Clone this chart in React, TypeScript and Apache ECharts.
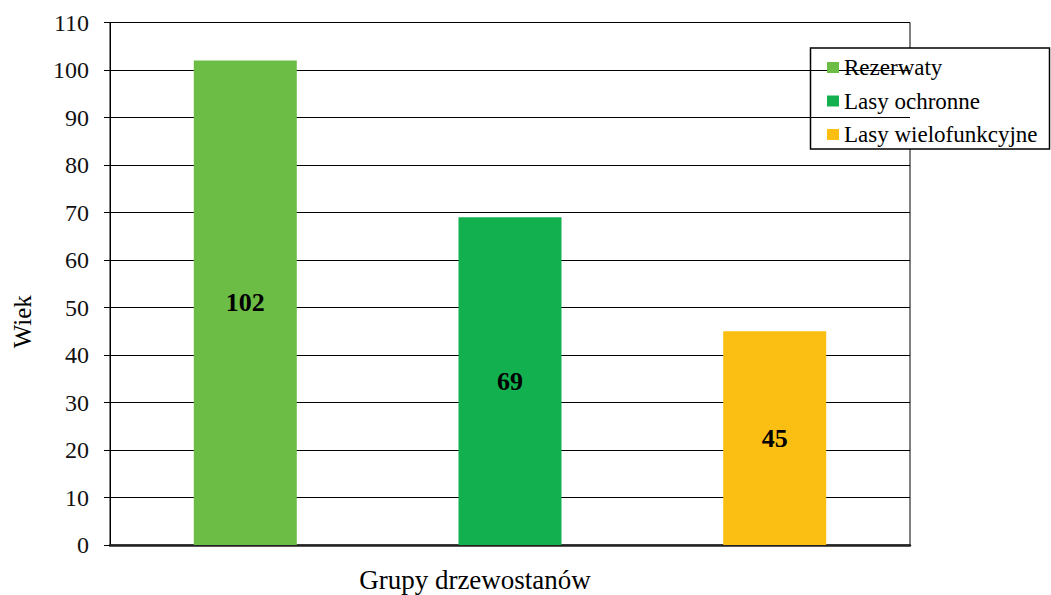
import React, { useEffect, useRef } from "react";
import * as echarts from "echarts";

// Mean stand age per forest group
const groups = ["Rezerwaty", "Lasy ochronne", "Lasy wielofunkcyjne"];
const ages = [102, 69, 45];
const groupColors = ["#6cbd45", "#13b050", "#fbbf13"];
const xTitle = "Grupy drzewostanów";
const yTitle = "Wiek";
const yMin = 0;
const yMax = 110;
const yStep = 10;

const SERIF = "'Liberation Serif', 'Times New Roman', serif";

export default function App() {
  const ref = useRef<HTMLDivElement>(null);

  useEffect(() => {
    if (!ref.current) return;
    const chart = echarts.init(ref.current, undefined, { renderer: "svg" });

    const series = groups.map((name, i) => ({
      name,
      type: "bar" as const,
      data: [ages[i]],
      barWidth: 103,
      barGap: "157%",
      itemStyle: { color: groupColors[i] },
      label: {
        show: true,
        position: "inside",
        color: "#000",
        fontFamily: SERIF,
        fontWeight: "bold",
        fontSize: 26,
      },
    }));

    chart.setOption({
      animation: false,
      backgroundColor: "#fff",
      textStyle: { fontFamily: SERIF },
      grid: {
        left: 110,
        right: 141,
        top: 22.5,
        bottom: 50,
        show: true,
        borderColor: "#000",
        borderWidth: 1,
        outerBoundsMode: "none",
      },
      legend: {
        orient: "vertical",
        left: 827,
        top: 56,
        padding: 0,
        itemWidth: 12,
        itemHeight: 11,
        itemGap: 10.5,
        icon: "rect",
        textStyle: { fontFamily: SERIF, fontSize: 23, color: "#000" },
        data: groups,
      },
      graphic: [
        {
          type: "rect",
          shape: { x: 810.5, y: 48, width: 239, height: 101 },
          style: { fill: "#fff", stroke: "#000", lineWidth: 1.5 },
          z: 0,
          zlevel: 0,
        },
      ],
      xAxis: {
        type: "category",
        data: [""],
        name: xTitle,
        nameLocation: "middle",
        nameGap: 21,
        nameTextStyle: {
          fontFamily: SERIF,
          fontSize: 27,
          color: "#000",
          padding: [0, 70, 0, 0],
        },
        axisLine: { lineStyle: { color: "#222", width: 2.5 } },
        axisTick: { show: false },
        axisLabel: { show: false },
      },
      yAxis: {
        type: "value",
        min: yMin,
        max: yMax,
        interval: yStep,
        name: yTitle,
        nameLocation: "middle",
        nameGap: 75,
        nameRotate: 90,
        nameTextStyle: {
          fontFamily: SERIF,
          fontSize: 25,
          color: "#000",
          padding: [0, 76, 0, 0],
        },
        axisLine: { show: true, lineStyle: { color: "#000", width: 1 } },
        axisTick: { show: true, length: 6, lineStyle: { color: "#000" } },
        axisLabel: { fontFamily: SERIF, fontSize: 24, color: "#111", margin: 21 },
        splitLine: { lineStyle: { color: "#000", width: 1 } },
      },
      series,
    });

    return () => chart.dispose();
  }, []);

  return (
    <div
      ref={ref}
      style={{ position: "fixed", left: 0, top: 0, width: 1051, height: 595 }}
    />
  );
}
